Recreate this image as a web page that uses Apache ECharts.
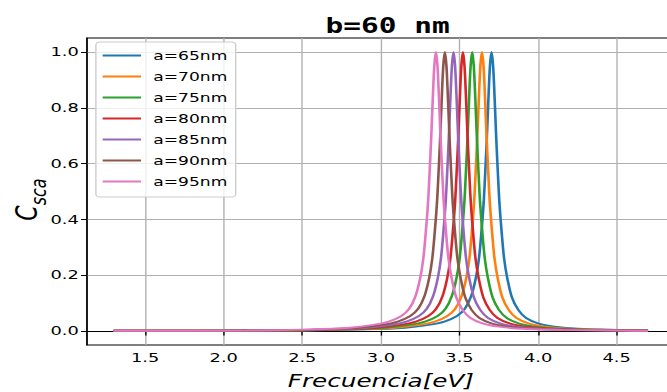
<!DOCTYPE html>
<html>
<head>
<meta charset="utf-8">
<script src="https://cdn.jsdelivr.net/npm/echarts@6/dist/echarts.min.js"></script>
<style>
html,body{margin:0;padding:0;background:#fff;overflow:hidden;width:667px;height:392px;}
#chart{width:487px;height:392px;transform:scaleX(1.3696);transform-origin:0 0;}
</style>
</head>
<body>
<div id="chart"></div>
<script>
// Frequencies [eV] and normalized scattering cross sections for each a
const freq65 = [1.3, 2.504, 2.904, 3.154, 3.304, 3.404, 3.484, 3.534, 3.574, 3.604, 3.624, 3.639, 3.654, 3.664, 3.674, 3.684, 3.694, 3.704, 3.714, 3.724, 3.734, 3.744, 3.754, 3.769, 3.784, 3.804, 3.834, 3.874, 3.924, 4.004, 4.104, 4.254, 4.504, 4.7];
const csca65 = [0.001, 0.002, 0.006, 0.012, 0.022, 0.034, 0.054, 0.08, 0.125, 0.19, 0.26, 0.35, 0.46, 0.57, 0.69, 0.83, 0.95, 1.0, 0.95, 0.83, 0.69, 0.57, 0.46, 0.35, 0.26, 0.19, 0.12, 0.076, 0.047, 0.027, 0.016, 0.008, 0.004, 0.0025];
const freq70 = [1.3, 2.443, 2.843, 3.093, 3.243, 3.343, 3.423, 3.473, 3.513, 3.543, 3.563, 3.578, 3.593, 3.603, 3.613, 3.623, 3.633, 3.643, 3.653, 3.663, 3.673, 3.683, 3.693, 3.708, 3.723, 3.743, 3.773, 3.813, 3.863, 3.943, 4.043, 4.193, 4.443, 4.7];
const csca70 = [0.001, 0.002, 0.006, 0.012, 0.022, 0.034, 0.054, 0.08, 0.125, 0.19, 0.26, 0.35, 0.46, 0.57, 0.69, 0.83, 0.95, 1.0, 0.95, 0.83, 0.69, 0.57, 0.46, 0.35, 0.26, 0.19, 0.12, 0.076, 0.047, 0.027, 0.016, 0.008, 0.004, 0.002];
const freq75 = [1.3, 2.381, 2.781, 3.031, 3.181, 3.281, 3.361, 3.411, 3.451, 3.481, 3.501, 3.516, 3.531, 3.541, 3.551, 3.561, 3.571, 3.581, 3.591, 3.601, 3.611, 3.621, 3.631, 3.646, 3.661, 3.681, 3.711, 3.751, 3.801, 3.881, 3.981, 4.131, 4.381, 4.7];
const csca75 = [0.001, 0.002, 0.006, 0.012, 0.022, 0.034, 0.054, 0.08, 0.125, 0.19, 0.26, 0.35, 0.46, 0.57, 0.69, 0.83, 0.95, 1.0, 0.95, 0.83, 0.69, 0.57, 0.46, 0.35, 0.26, 0.19, 0.12, 0.076, 0.047, 0.027, 0.016, 0.008, 0.004, 0.0017];
const freq80 = [1.3, 2.322, 2.722, 2.972, 3.122, 3.222, 3.302, 3.352, 3.392, 3.422, 3.442, 3.457, 3.472, 3.482, 3.492, 3.502, 3.512, 3.522, 3.532, 3.542, 3.552, 3.562, 3.572, 3.587, 3.602, 3.622, 3.652, 3.692, 3.742, 3.822, 3.922, 4.072, 4.322, 4.7];
const csca80 = [0.001, 0.002, 0.006, 0.012, 0.022, 0.034, 0.054, 0.08, 0.125, 0.19, 0.26, 0.35, 0.46, 0.57, 0.69, 0.83, 0.95, 1.0, 0.95, 0.83, 0.69, 0.57, 0.46, 0.35, 0.26, 0.19, 0.12, 0.076, 0.047, 0.027, 0.016, 0.008, 0.004, 0.0015];
const freq85 = [1.3, 2.262, 2.662, 2.912, 3.062, 3.162, 3.242, 3.292, 3.332, 3.362, 3.382, 3.397, 3.412, 3.422, 3.432, 3.442, 3.452, 3.462, 3.472, 3.482, 3.492, 3.502, 3.512, 3.527, 3.542, 3.562, 3.592, 3.632, 3.682, 3.762, 3.862, 4.012, 4.262, 4.662, 4.7];
const csca85 = [0.001, 0.002, 0.006, 0.012, 0.022, 0.034, 0.054, 0.08, 0.125, 0.19, 0.26, 0.35, 0.46, 0.57, 0.69, 0.83, 0.95, 1.0, 0.95, 0.83, 0.69, 0.57, 0.46, 0.35, 0.26, 0.19, 0.12, 0.076, 0.047, 0.027, 0.016, 0.008, 0.004, 0.0015, 0.0014];
const freq90 = [1.3, 2.207, 2.607, 2.857, 3.007, 3.107, 3.187, 3.237, 3.277, 3.307, 3.327, 3.342, 3.357, 3.367, 3.377, 3.387, 3.397, 3.407, 3.417, 3.427, 3.437, 3.447, 3.457, 3.472, 3.487, 3.507, 3.537, 3.577, 3.627, 3.707, 3.807, 3.957, 4.207, 4.607, 4.7];
const csca90 = [0.001, 0.002, 0.006, 0.012, 0.022, 0.034, 0.054, 0.08, 0.125, 0.19, 0.26, 0.35, 0.46, 0.57, 0.69, 0.83, 0.95, 1.0, 0.95, 0.83, 0.69, 0.57, 0.46, 0.35, 0.26, 0.19, 0.12, 0.076, 0.047, 0.027, 0.016, 0.008, 0.004, 0.0015, 0.0012];
const freq95 = [1.3, 2.15, 2.55, 2.8, 2.95, 3.05, 3.13, 3.18, 3.22, 3.25, 3.27, 3.285, 3.3, 3.31, 3.32, 3.33, 3.34, 3.35, 3.36, 3.37, 3.38, 3.39, 3.4, 3.415, 3.43, 3.45, 3.48, 3.52, 3.57, 3.65, 3.75, 3.9, 4.15, 4.55, 4.7];
const csca95 = [0.001, 0.002, 0.006, 0.012, 0.022, 0.034, 0.054, 0.08, 0.125, 0.19, 0.26, 0.35, 0.46, 0.57, 0.69, 0.83, 0.95, 1.0, 0.95, 0.83, 0.69, 0.57, 0.46, 0.35, 0.26, 0.19, 0.12, 0.076, 0.047, 0.027, 0.016, 0.008, 0.004, 0.0015, 0.0005];

const seriesNames = ['a=65nm', 'a=70nm', 'a=75nm', 'a=80nm', 'a=85nm', 'a=90nm', 'a=95nm'];
const xTicks = [1.5, 2.0, 2.5, 3.0, 3.5, 4.0, 4.5];
const yTicks = [0.0, 0.2, 0.4, 0.6, 0.8, 1.0];
const titleText = 'b=60 nm';
const xName = 'Frecuencia[eV]';

const freqs = [freq65, freq70, freq75, freq80, freq85, freq90, freq95];
const cscas = [csca65, csca70, csca75, csca80, csca85, csca90, csca95];
const colors = ['#1f77b4', '#ff7f0e', '#2ca02c', '#d62728', '#9467bd', '#8c564b', '#e377c2'];

const FONT = 'DejaVu Sans';
const chart = echarts.init(document.getElementById('chart'), null, {renderer: 'svg'});

const series = seriesNames.map((name, i) => ({
  name: name,
  type: 'line',
  data: freqs[i].map((x, j) => [x, cscas[i][j]]),
  symbol: 'none',
  showSymbol: false,
  smooth: 0.3,
  lineStyle: {width: 1.9, color: colors[i]},
  itemStyle: {color: colors[i]},
  emphasis: {disabled: true},
  animation: false
}));

chart.setOption({
  animation: false,
  backgroundColor: '#ffffff',
  title: {
    text: titleText,
    left: 278,
    top: 9,
    textAlign: 'center',
    textStyle: {fontFamily: 'DejaVu Sans Mono', fontWeight: 'bold', fontSize: 21.5, color: '#000'}
  },
  legend: {
    data: seriesNames,
    orient: 'vertical',
    left: 70,
    top: 42,
    itemWidth: 28,
    itemHeight: 14,
    itemGap: 8,
    padding: [7, 6, 9, 4],
    backgroundColor: 'rgba(255,255,255,0.8)',
    borderColor: '#cccccc',
    borderWidth: 1,
    borderRadius: 3,
    itemStyle: {opacity: 0},
    lineStyle: {width: 1.9},
    textStyle: {fontFamily: FONT, fontSize: 12.5, color: '#000', padding: [1, 0, 1, 4]}
  },
  grid: {
    left: 63.5,
    right: -5.7,
    top: 38,
    bottom: 47,
    outerBoundsMode: 'none',
    containLabel: false,
    show: true,
    borderColor: '#000',
    borderWidth: 1,
    backgroundColor: 'transparent'
  },
  xAxis: {
    type: 'value',
    min: 1.13,
    max: 4.87,
    name: xName,
    nameLocation: 'middle',
    nameGap: 27,
    nameMoveOverlap: false,
    nameTextStyle: {fontFamily: FONT, fontStyle: 'italic', fontSize: 18, color: '#000'},
    axisLine: {show: true, lineStyle: {color: '#000', width: 1}},
    axisTick: {show: true, inside: false, length: 4.5, customValues: xTicks, lineStyle: {color: '#000', width: 1}},
    axisLabel: {customValues: xTicks, margin: 6, fontFamily: FONT, fontSize: 13, color: '#000', formatter: v => v.toFixed(1)},
    splitLine: {show: true, lineStyle: {color: '#b0b0b0', width: 1}}
  },
  yAxis: {
    type: 'value',
    min: -0.05,
    max: 1.05,
    name: '{c|C}{s|sca}',
    nameLocation: 'middle',
    nameRotate: 90,
    nameGap: 27,
    nameMoveOverlap: false,
    nameTextStyle: {
      padding: [0, 16, 0, 0],
      rich: {
        c: {fontFamily: FONT, fontStyle: 'italic', fontSize: 22, color: '#000', verticalAlign: 'bottom', padding: [0, 0, 6, 0]},
        s: {fontFamily: FONT, fontStyle: 'italic', fontSize: 16, color: '#000', verticalAlign: 'bottom'}
      }
    },
    axisLine: {show: true, lineStyle: {color: '#000', width: 1}},
    axisTick: {show: true, inside: false, length: 4.3, customValues: yTicks, lineStyle: {color: '#000', width: 1}},
    axisLabel: {customValues: yTicks, margin: 6, fontFamily: FONT, fontSize: 13, color: '#000', formatter: v => v.toFixed(1)},
    splitLine: {show: true, lineStyle: {color: '#b0b0b0', width: 1}}
  },
  series: series
});
</script>
</body>
</html>
